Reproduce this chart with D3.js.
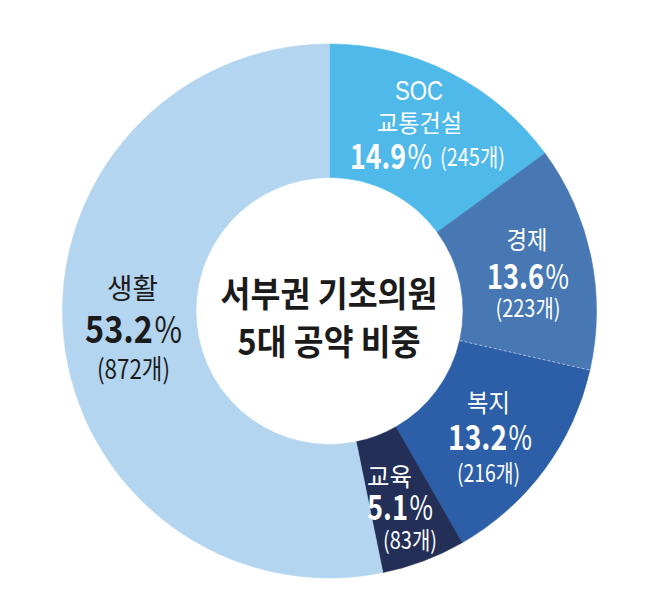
<!DOCTYPE html>
<html><head><meta charset="utf-8">
<script src="https://cdn.jsdelivr.net/npm/d3@7"></script>
<style>html,body{margin:0;padding:0;background:#fff;}svg{display:block;}</style>
</head><body>
<svg id="c" width="658" height="609"></svg>
<script>
// ---- data ----
const categories = ["SOC 교통건설", "경제", "복지", "교육", "생활"];
const counts = [245, 223, 216, 83, 872];
const percents = ["14.9", "13.6", "13.2", "5.1", "53.2"];
const colors = ["#4fb9ea", "#4778b4", "#2c5fa7", "#232f57", "#b3d5ef"];
const titleLines = ["서부권 기초의원", "5대 공약 비중"];

// ---- layout ----
const cx = 329.5, cy = 311, R = 267, r0 = 133.5;
const svg = d3.select("#c");
const g = svg.append("g").attr("transform", `translate(${cx},${cy})`);
const pie = d3.pie().sort(null).value(d => d);
const arcs = pie(counts);
const arc = d3.arc().innerRadius(r0).outerRadius(R);
g.selectAll("path.slice").data(arcs).join("path")
  .attr("class", "slice").attr("d", arc)
  .attr("fill", (d, i) => colors[i]).attr("stroke", (d, i) => colors[i]).attr("stroke-width", 0.6);

// dashed separator between 경제 and 복지
const a = arcs[1].endAngle;
g.append("line")
  .attr("x1", r0 * Math.sin(a)).attr("y1", -r0 * Math.cos(a))
  .attr("x2", R * Math.sin(a)).attr("y2", -R * Math.cos(a))
  .attr("stroke", "#ffffff").attr("stroke-opacity", 0.55)
  .attr("stroke-width", 1).attr("stroke-dasharray", "3,2");

const FONT = "'Noto Sans CJK KR','Noto Sans',sans-serif";
// text scaled horizontally to a target width (condensed look)
function txt(x, y, w, size, weight, color, str, anchor, family) {
  anchor = anchor || "middle";
  const t = svg.append("text")
    .attr("x", 0).attr("y", 0)
    .attr("text-anchor", anchor).attr("dominant-baseline", "central")
    .attr("font-family", family || FONT).attr("font-size", size)
    .attr("font-weight", weight).attr("fill", color)
    .text(str);
  const w0 = t.node().getComputedTextLength() || w;
  t.attr("transform", `translate(${x},${y}) scale(${(w / w0).toFixed(4)},1)`);
  return t;
}
// percentage: bold number (right-aligned at xs) + thin % (from xs+gap)
function pct(x1, xs, x2, y, size, color, i) {
  txt(xs, y, xs - x1, size, 700, color, percents[i], "end");
  txt(xs + 1.5, y, x2 - xs - 1.5, size, 400, color, "%", "start");
}
const cnt = i => `(${counts[i]}개)`;
const WHITE = "#ffffff", DARK = "#1b1b1b";

// SOC 교통건설
const socParts = categories[0].split(" ");
txt(419, 90, 48, 28, 400, WHITE, socParts[0], "middle", "'Liberation Sans',Arial,sans-serif");
txt(419.5, 122, 85, 24, 400, WHITE, socParts[1]);
pct(350, 406, 432, 155, 34, WHITE, 0);
txt(472.5, 155, 65, 24, 400, WHITE, cnt(0));

// 경제
txt(527, 238, 41, 25, 400, WHITE, categories[1]);
pct(487, 544, 569, 274, 34, WHITE, 1);
txt(528, 306, 65, 24, 400, WHITE, cnt(1));

// 복지
txt(488.5, 401, 43, 25, 400, WHITE, categories[2]);
pct(448, 507, 532, 435, 34, WHITE, 2);
txt(488.5, 472, 63, 24, 400, WHITE, cnt(2));

// 교육
txt(389.5, 475, 45, 25, 400, WHITE, categories[3]);
pct(367, 408, 433, 505, 34, WHITE, 3);
txt(410, 538, 54, 24, 400, WHITE, cnt(3));

// 생활
txt(132.5, 287, 51, 28, 400, DARK, categories[4]);
pct(85, 153, 182, 327, 37, DARK, 4);
txt(133.5, 367, 73, 27, 400, DARK, cnt(4));

// center title
txt(329, 292, 217, 35, 700, DARK, titleLines[0]);
txt(329, 340, 183, 35, 700, DARK, titleLines[1]);
</script>
</body></html>
